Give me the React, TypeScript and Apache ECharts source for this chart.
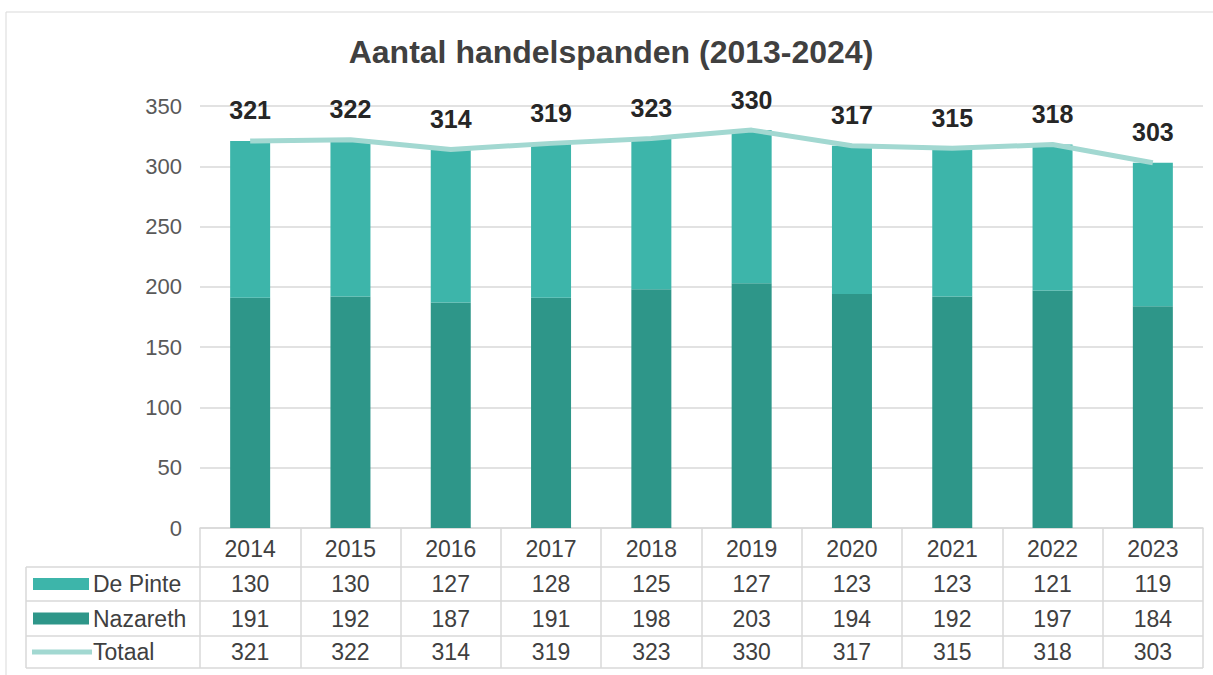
import React, { useEffect, useRef } from "react";
import * as echarts from "echarts";

const years = ["2014", "2015", "2016", "2017", "2018", "2019", "2020", "2021", "2022", "2023"];
const dePinte = [130, 130, 127, 128, 125, 127, 123, 123, 121, 119];
const nazareth = [191, 192, 187, 191, 198, 203, 194, 192, 197, 184];
const totaal = [321, 322, 314, 319, 323, 330, 317, 315, 318, 303];
const yTicks = { min: 0, max: 350, interval: 50 };
const titleText = "Aantal handelspanden (2013-2024)";
const rowNames = ["De Pinte", "Nazareth", "Totaal"];

const C_LIGHT = "#3db5aa";
const C_DARK = "#2e9689";
const C_LINE = "#a2d8d1";
const C_BORDER = "#d9d9d9";
const C_TEXT = "#404040";
const FONT = "'Liberation Sans', Arial, sans-serif";

export default function App() {
  const ref = useRef<HTMLDivElement>(null);
  useEffect(() => {
    if (!ref.current) return;
    const chart = echarts.init(ref.current, null, { renderer: "svg" });
    const gridLeft = 200;
    const gridRight = 10;
    const gridTop = 106;
    const gridBottom = 147; // axis at y=528
    const axisY = 675 - gridBottom;
    const rowLines = [567, 601, 636, 668];
    const rowCenters = [548.5, 584, 618.5, 652];
    const tableRight = 1213 - gridRight;

    const graphics: any[] = [
      {
        type: "rect",
        shape: { x: 6, y: 12, width: 1400, height: 800 },
        style: { fill: "none", stroke: C_BORDER, lineWidth: 1 },
        silent: true,
      },
      {
        type: "text",
        x: 611,
        y: 52,
        style: {
          text: titleText,
          font: `bold 32px ${FONT}`,
          fill: C_TEXT,
          align: "center",
          verticalAlign: "middle",
        },
      },
    ];
    rowLines.forEach((y) => {
      graphics.push({
        type: "line",
        shape: { x1: 26, y1: y, x2: tableRight, y2: y },
        style: { stroke: C_BORDER, lineWidth: 1.5 },
        silent: true,
      });
    });
    graphics.push({
      type: "line",
      shape: { x1: 26, y1: rowLines[0], x2: 26, y2: rowLines[3] },
      style: { stroke: C_BORDER, lineWidth: 1.5 },
      silent: true,
    });
    graphics.push({
      type: "rect",
      shape: { x: 33, y: rowCenters[1] - 6, width: 56, height: 12 },
      style: { fill: C_LIGHT },
    });
    graphics.push({
      type: "rect",
      shape: { x: 33, y: rowCenters[2] - 6, width: 56, height: 12 },
      style: { fill: C_DARK },
    });
    graphics.push({
      type: "line",
      shape: { x1: 32, y1: rowCenters[3], x2: 92, y2: rowCenters[3] },
      style: { stroke: C_LINE, lineWidth: 5 },
    });
    rowNames.forEach((name, i) => {
      graphics.push({
        type: "text",
        x: 93,
        y: rowCenters[i + 1],
        style: {
          text: name,
          font: `23px ${FONT}`,
          fill: C_TEXT,
          align: "left",
          verticalAlign: "middle",
        },
      });
    });

    const tableAxis = (values: number[], margin: number) => ({
      type: "category",
      data: years,
      gridIndex: 0,
      position: "bottom",
      offset: 0,
      axisLine: { show: false },
      axisTick: { show: false },
      splitLine: { show: false },
      axisLabel: {
        interval: 0,
        margin,
        verticalAlign: "middle",
        fontSize: 23,
        fontFamily: FONT,
        color: C_TEXT,
        formatter: (_v: string, i: number) => String(values[i]),
      },
    });

    chart.setOption({
      animation: false,
      backgroundColor: "#ffffff",
      grid: { left: gridLeft, right: gridRight, top: gridTop, bottom: gridBottom },
      xAxis: [
        {
          type: "category",
          data: years,
          position: "bottom",
          axisLine: { show: true, lineStyle: { color: C_BORDER, width: 1.5 } },
          axisTick: {
            show: true,
            length: rowLines[3] - axisY,
            lineStyle: { color: C_BORDER, width: 1.5 },
          },
          axisLabel: {
            interval: 0,
            margin: rowCenters[0] - axisY,
            verticalAlign: "middle",
            fontSize: 23,
            fontFamily: FONT,
            color: C_TEXT,
          },
        },
        tableAxis(dePinte, rowCenters[1] - axisY),
        tableAxis(nazareth, rowCenters[2] - axisY),
        tableAxis(totaal, rowCenters[3] - axisY),
      ],
      yAxis: {
        type: "value",
        min: yTicks.min,
        max: yTicks.max,
        interval: yTicks.interval,
        axisLine: { show: false },
        axisTick: { show: false },
        splitLine: { lineStyle: { color: C_BORDER, width: 1.5 } },
        axisLabel: { fontSize: 22, fontFamily: FONT, color: "#595959", margin: 18 },
      },
      series: [
        {
          name: "Nazareth",
          type: "bar",
          stack: "t",
          data: nazareth,
          barWidth: 40,
          itemStyle: { color: C_DARK },
          xAxisIndex: 0,
        },
        {
          name: "De Pinte",
          type: "bar",
          stack: "t",
          data: dePinte,
          barWidth: 40,
          itemStyle: { color: C_LIGHT },
          xAxisIndex: 0,
        },
        {
          name: "Totaal",
          type: "line",
          data: totaal,
          xAxisIndex: 0,
          symbol: "circle",
          symbolSize: 0,
          showSymbol: true,
          itemStyle: { color: C_LINE },
          z: 5,
          lineStyle: { color: C_LINE, width: 5 },
          label: {
            show: true,
            position: "top",
            distance: 18,
            fontSize: 25,
            fontWeight: "bold",
            fontFamily: FONT,
            color: "#262626",
          },
        },
      ],
      graphic: graphics,
    });
    return () => chart.dispose();
  }, []);
  return (
    <div
      ref={ref}
      style={{ position: "absolute", left: 0, top: 0, width: 1213, height: 675 }}
    />
  );
}
